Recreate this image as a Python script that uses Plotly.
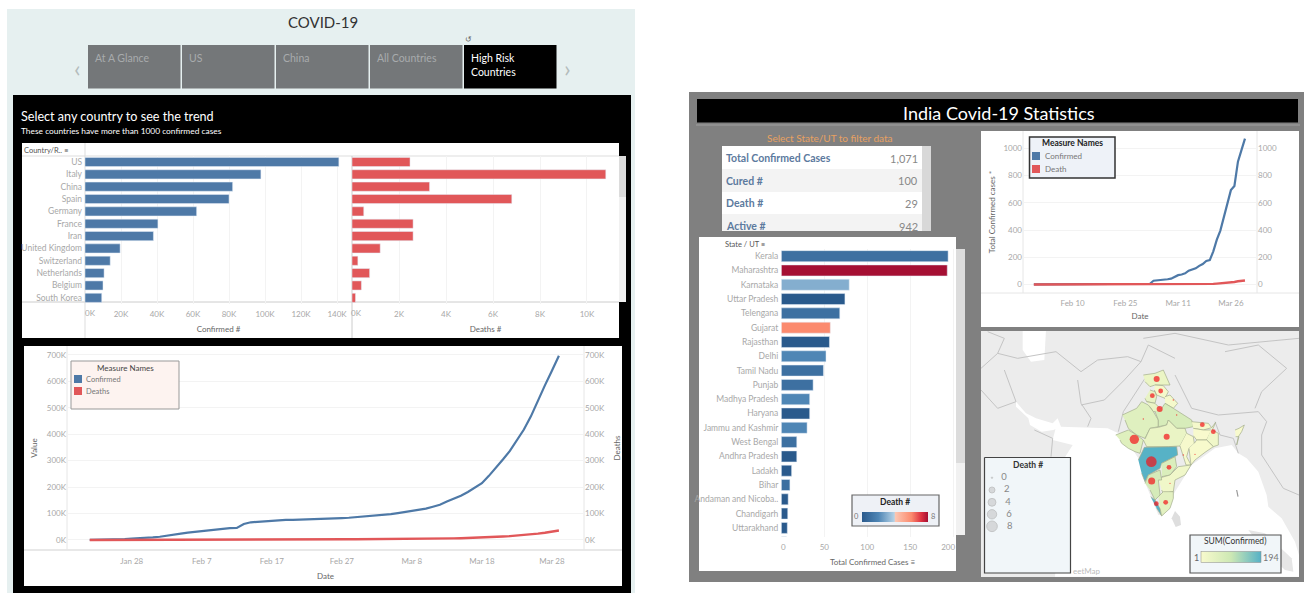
import math
import plotly.graph_objects as go
import pandas as pd

W, H = 1304, 593
FONT = "Lato"
BLUE, RED = "#4e79a7", "#e15759"
TICK = "#a8a8a8"
GRID = "#f3f3f3"

# ---------- world bars ----------
countries = ["US", "Italy", "China", "Spain", "Germany", "France", "Iran", "United Kingdom",
             "Switzerland", "Netherlands", "Belgium", "South Korea"]
confirmed = [141000, 97700, 82000, 80000, 62000, 40500, 38000, 19500, 14000, 10600, 10000, 9300]
deaths = [2470, 10800, 3300, 6800, 500, 2600, 2600, 1200, 250, 750, 400, 150]
conf_ticks = [20000, 40000, 60000, 80000, 100000, 120000, 140000]
conf_labels = ["20K", "40K", "60K", "80K", "100K", "120K", "140K"]
death_ticks = [2000, 4000, 6000, 8000, 10000]
death_labels = ["2K", "4K", "6K", "8K", "10K"]

# ---------- world trend, daily from Jan 22 ----------
world_confirmed = [555, 654, 941, 1434, 2118, 2927, 5578, 6166, 8234, 9927, 12038, 16787, 19881, 23892,
                   27635, 30794, 34391, 37120, 40150, 42762, 44802, 45221, 60368, 66885, 69030, 71224,
                   73258, 75136, 75639, 76197, 76819, 78572, 78958, 79561, 80406, 81388, 82746, 84112,
                   86011, 88369, 90306, 92840, 95120, 97886, 101801, 105847, 109821, 113590, 118620,
                   125875, 133000, 145205, 156101, 167454, 181574, 197102, 214821, 242570, 272208,
                   304507, 336953, 378235, 418045, 467653, 529591, 585000, 640000, 697000]
world_deaths = [17, 18, 26, 42, 56, 82, 131, 133, 171, 213, 259, 362, 426, 492, 564, 634, 719, 806, 906,
                1013, 1113, 1118, 1371, 1523, 1666, 1770, 1868, 2007, 2122, 2247, 2251, 2458, 2469, 2629,
                2708, 2770, 2814, 2872, 2941, 2996, 3085, 3160, 3254, 3348, 3460, 3558, 3803, 3996, 4262,
                4615, 4720, 5404, 5819, 6440, 7126, 7905, 8733, 9867, 11299, 13050, 14601, 16497, 18625,
                21181, 23970, 27198, 31500, 36000]
world_y_ticks = [0, 100000, 200000, 300000, 400000, 500000, 600000, 700000]
world_y_labels = ["0K", "100K", "200K", "300K", "400K", "500K", "600K", "700K"]
world_x_ticks = ["2020-01-28", "2020-02-07", "2020-02-17", "2020-02-27", "2020-03-08", "2020-03-18", "2020-03-28"]
world_x_labels = ["Jan 28", "Feb 7", "Feb 17", "Feb 27", "Mar 8", "Mar 18", "Mar 28"]

# ---------- India trend, daily from Jan 30 ----------
india_confirmed = [1, 1, 1, 2, 3, 3, 3, 3, 3, 3, 3, 3, 3, 3, 3, 3, 3, 3, 3, 3, 3, 3, 3, 3, 3, 3, 3, 3, 3, 3, 3,
                   3, 5, 6, 28, 30, 31, 34, 39, 43, 56, 69, 74, 82, 102, 113, 119, 137, 151, 173, 179,
                   244, 330, 396, 499, 600, 693, 724, 902, 987, 1071]
india_deaths = [0, 0, 0, 0, 0, 0, 0, 0, 0, 0, 0, 0, 0, 0, 0, 0, 0, 0, 0, 0, 0, 0, 0, 0, 0, 0, 0, 0, 0, 0, 0,
                0, 0, 0, 0, 0, 0, 0, 0, 0, 0, 0, 1, 2, 2, 2, 3, 3, 3, 4, 5, 5, 7, 9, 10, 13, 16, 19, 24, 27, 30]
india_y_ticks = [0, 200, 400, 600, 800, 1000]
india_x_ticks = ["2020-02-10", "2020-02-25", "2020-03-11", "2020-03-26"]
india_x_labels = ["Feb 10", "Feb 25", "Mar 11", "Mar 26"]

# ---------- India states ----------
states = ["Kerala", "Maharashtra", "Karnataka", "Uttar Pradesh", "Telengana", "Gujarat", "Rajasthan", "Delhi",
          "Tamil Nadu", "Punjab", "Madhya Pradesh", "Haryana", "Jammu and Kashmir", "West Bengal",
          "Andhra Pradesh", "Ladakh", "Bihar", "Andaman and Nicoba..", "Chandigarh", "Uttarakhand", "Chhattisgarh"]
state_confirmed = [194, 193, 79, 74, 68, 57, 56, 52, 49, 37, 33, 33, 30, 18, 18, 12, 10, 8, 7.5, 7, 6]
state_deaths = [1, 8, 3, 0, 1, 6, 0, 2, 1, 1, 2, 0, 2, 1, 0, 0, 1, 0, 0, 0, 0]
state_ticks = [0, 50, 100, 150, 200]
state_labels = ["\u00a0\u00a00", "50", "100", "150", "200\u00a0\u00a0\u00a0\u00a0\u00a0"]

kpi_names = ["Total Confirmed Cases", "Cured #", "Death #", "Active #"]
kpi_values = ["1,071", "100", "29", "942"]
tabs = ["At A Glance", "US", "China", "All Countries", "High Risk<br>Countries"]

# ---------- map (outlines in 3x crop units) ----------
map_shapes = {
    "Jammu and Kashmir": ([115, 150, 175, 185, 195, 175, 150, 135, 120], [30, 25, 15, 40, 60, 60, 60, 65, 50], 30),
    "Himachal": ([150, 175, 190, 180, 155, 148], [60, 62, 80, 100, 90, 75], 8),
    "Punjab": ([135, 150, 155, 150, 125, 120], [75, 80, 95, 115, 110, 100], 37),
    "Uttarakhand": ([180, 195, 218, 205, 180], [95, 90, 115, 130, 115], 7),
    "Haryana": ([125, 150, 170, 165, 145, 135], [110, 115, 135, 140, 140, 125], 33),
    "Rajasthan": ([52, 95, 110, 130, 145, 160, 160, 135, 120, 95, 70, 60],
                  [150, 130, 110, 120, 140, 165, 185, 190, 220, 210, 190, 165], 56),
    "Uttar Pradesh": ([170, 180, 205, 260, 265, 240, 215, 190, 185, 160, 160, 150],
                      [130, 115, 130, 165, 185, 190, 190, 165, 180, 185, 165, 140], 74),
    "Bihar": ([260, 310, 320, 295, 265], [170, 175, 188, 195, 190], 10),
    "Gujarat": ([32, 70, 95, 115, 105, 90, 70, 50, 45], [210, 195, 210, 225, 265, 260, 250, 235, 225], 57),
    "Madhya Pradesh": ([120, 135, 160, 185, 190, 215, 240, 245, 225, 190, 125, 115],
                       [222, 190, 187, 180, 165, 190, 190, 205, 243, 245, 245, 225], 33),
    "Chhattisgarh": ([245, 265, 268, 252, 245, 258, 243, 225], [205, 215, 235, 250, 275, 300, 300, 243], 6),
    "Jharkhand": ([265, 295, 320, 305, 275, 265], [190, 195, 195, 225, 225, 212], 2),
    "West Bengal": ([320, 332, 322, 340, 340, 325, 305], [188, 172, 195, 205, 240, 245, 225], 18),
    "Odisha": ([268, 275, 305, 325, 300, 270, 258, 252], [235, 225, 225, 245, 262, 285, 300, 250], 3),
    "Maharashtra": ([100, 118, 215, 218, 170, 165, 130, 120, 110], [285, 247, 245, 270, 295, 310, 330, 350, 325], 193),
    "Telengana": ([170, 210, 215, 195, 170], [295, 275, 305, 330, 335], 68),
    "Andhra Pradesh": ([160, 195, 220, 258, 240, 210, 205, 175, 170], [340, 330, 305, 300, 330, 345, 380, 385, 375], 18),
    "Karnataka": ([120, 130, 165, 170, 160, 165, 150, 135], [355, 330, 315, 345, 345, 390, 405, 375], 79),
    "Kerala": ([137, 150, 165, 170, 155], [395, 405, 430, 453, 430], 194),
    "Tamil Nadu": ([160, 175, 205, 205, 195, 170, 165], [395, 380, 380, 400, 430, 453, 430], 49),
    "North East": ([390, 402, 418, 410, 400, 395, 402, 392], [195, 190, 180, 200, 215, 240, 215, 215], 2),
}
map_marks_x = [155, 167, 142, 164, 115, 215, 292, 325, 88, 185, 139, 192, 140, 154, 182, 235, 270, 205, 195]
map_marks_y = [42, 78, 92, 132, 162, 150, 179, 200, 223, 215, 290, 307, 348, 416, 412, 270, 268, 105, 355]
map_marks_deaths = [2, 1, 1, 2, 0, 0, 1, 1, 6, 2, 8, 1, 3, 1, 1, 0, 0, 0, 0]
legend_deaths = [0, 2, 4, 6, 8]
persian_gulf_x = [123, 153, 183, 233, 248, 258, 235, 200, 165, 160, 123]
persian_gulf_y = [230, 265, 280, 295, 280, 305, 315, 320, 300, 280, 245]
caspian_x = [143, 213, 208, 168, 143]
caspian_y = [15, 15, 105, 110, 75]
sea_x = [258, 398, 430, 470, 490, 505, 550, 565, 600, 650, 720, 770, 790, 815, 850, 875, 880, 920, 960, 972, 972, 240, 268, 293, 233, 243]
sea_y = [305, 310, 325, 370, 400, 460, 570, 570, 500, 420, 370, 360, 385, 400, 440, 510, 545, 580, 650, 690, 755, 755, 400, 360, 345, 305]
lanka_x = [600, 615, 618, 602, 590]
lanka_y = [558, 575, 600, 606, 580]
sumatra_x = [820, 870, 950, 955, 930, 870]
sumatra_y = [615, 625, 700, 740, 735, 680]
borders = [
    ([68, 128, 243, 318, 368, 458, 498], [85, 100, 80, 140, 105, 95, 110]),
    ([88, 123, 68, 18], [135, 230, 250, 195]),
    ([308, 318, 348, 338], [165, 235, 280, 305]),
    ([318, 388, 448, 498, 520, 600], [240, 225, 165, 110, 60, 100]),
    ([178, 233, 228], [315, 340, 395]),
    ([18, 68, 88, 38], [130, 85, 40, 20]),
    ([600, 650, 730, 850, 875, 860, 860, 925, 972], [150, 250, 270, 260, 290, 330, 390, 490, 510]),
    ([750, 850, 935, 860, 840], [80, 60, 130, 200, 250]),
    ([505, 600, 760, 972], [40, 25, 60, 40]),
    ([510, 445, 430], [160, 260, 320]),
    ([720, 735, 775, 790], [290, 330, 340, 385]),
]

# ---------- helpers ----------
def px(x):
    return x / W

def py(y):
    return 1 - y / H

def mu(x, y):
    return (x - 390, y - 120)

def mx(x):
    return (x - 1105) * 3

def my(y):
    return (y - 365) * 3

shapes, annotations = [], []

def rect(x0, y0, x1, y1, fill, line=None, lw=1, layer="below"):
    shapes.append(dict(type="rect", xref="paper", yref="paper", x0=px(x0), x1=px(x1), y0=py(y1), y1=py(y0),
                       fillcolor=fill, layer=layer, line=dict(color=line or fill, width=lw if line else 0)))

def seg(x0, y0, x1, y1, color, lw=1, layer="below"):
    shapes.append(dict(type="line", xref="paper", yref="paper", x0=px(x0), x1=px(x1), y0=py(y0), y1=py(y1),
                       layer=layer, line=dict(color=color, width=lw)))

def text(x, y, s, size=8, color="#555", anchor="left", angle=0, bold=False):
    annotations.append(dict(xref="paper", yref="paper", x=px(x), y=py(y), text=f"<b>{s}</b>" if bold else s,
                            showarrow=False, xanchor=anchor, yanchor="middle", textangle=angle, borderpad=0,
                            font=dict(family=FONT, size=size, color=color), align="left"))

# ---------- panels ----------
rect(7, 9, 635, 593, "#e6f0f0")
rect(13, 95, 631, 593, "#000000")
text(323, 22, "COVID-19", 15, "#333", "center")
text(77, 67, "‹", 24, "#b4bcbc", "center")
text(567, 67, "›", 24, "#b4bcbc", "center")
text(469, 39, "↺", 8, "#666", "center")
for i, t in enumerate(tabs):
    x0 = 88 + i * 94
    active = i == len(tabs) - 1
    rect(x0, 45, x0 + 92.5, 88.5, "#000000" if active else "#747779")
    annotations.append(dict(xref="paper", yref="paper", x=px(x0 + 4.5), y=py(50), text=t, showarrow=False,
                            xanchor="left", yanchor="top", align="left",
                            font=dict(family=FONT, size=10.5, color="#ffffff" if active else "#a8abad")))
text(20, 117, "Select any country to see the trend", 12.6, "#ffffff")
text(20, 131, "These countries have more than 1000 confirmed cases", 8.4, "#ffffff")

rect(22, 143, 619, 338, "#ffffff")
rect(619, 156, 626, 302, "#f1f1f1")
rect(619, 156, 626, 197, "#dcdcdc")
seg(22, 156, 619, 156, "#dddddd")
seg(22, 302, 619, 302, "#cccccc")
seg(85, 143, 85, 338, "#dddddd")
seg(352, 156, 352, 338, "#cccccc")
text(23, 150, "Country/R.. ≡", 7.5, "#555")
text(90, 312.5, "0K", 8, TICK, "center")
text(357, 312.5, "0K", 8, TICK, "center")

rect(24, 346, 622, 586, "#ffffff")
seg(24, 550, 622, 550, "#e0e0e0", 1.5)
seg(67, 346, 67, 550, "#e6e6e6")
seg(584, 346, 584, 550, "#e6e6e6")

rect(689, 92, 1304, 582, "#808080")
rect(697, 99, 1298, 122.5, "#000000")
seg(696, 125, 1300, 125, "#a0a0a0")
text(999, 112.5, "India Covid-19 Statistics", 18, "#ffffff", "center")
text(830, 138, "Select State/UT to filter data", 10, "#e8a060", "center")
rect(722, 146, 922, 231, "#ffffff")
rect(922, 146, 931, 231, "#d8d8d8")
for y0, y1 in [(169, 192), (214, 231)]:
    rect(722, y0, 922, y1, "#f3f3f3")
for name, value, y in zip(kpi_names, kpi_values, [158, 181, 203, 226]):
    text(725, y, name, 10.5, "#5c7a9e", bold=True)
    text(919, y, value, 11, "#888888", "right")

rect(699, 237, 956, 571, "#ffffff")
rect(956, 249, 965, 535, "#f1f1f1")
rect(956, 249, 965, 463, "#dcdcdc")
text(724, 244, "State / UT ≡", 7.5, "#555")
text(873, 562, "Total Confirmed Cases ≡", 8, "#666", "center")

rect(981, 131, 1299, 327, "#ffffff")
seg(981, 293, 1299, 293, "#e6e6e6", 1)
seg(1023, 131, 1023, 293, "#e6e6e6")
seg(1257, 131, 1257, 293, "#e6e6e6")

# legends over the line charts
rect(71, 361, 179, 409, "#fdf3f0", "#999999", 1, "above")
text(125, 367.5, "Measure Names", 8, "#444", "center")
rect(74, 375, 82, 383, BLUE, layer="above")
text(85, 379, "Confirmed", 7.5, "#777")
rect(74, 387, 82, 395, RED, layer="above")
text(85, 391, "Deaths", 7.5, "#777")

rect(1029.5, 137, 1115, 178, "#eef2f8", "#333333", 1.5, "above")
text(1072, 143.5, "Measure Names", 8.5, "#222", "center", bold=True)
rect(1032, 152, 1040, 160, BLUE, layer="above")
text(1044, 156, "Confirmed", 8, "#777")
rect(1032, 165, 1040, 173, RED, layer="above")
text(1044, 169, "Death", 8, "#777")

rect(852, 495, 939, 526, "#eef1f6", "#666666", 1.2, "above")
text(895, 502, "Death #", 8.5, "#222", "center", bold=True)
text(856, 516.5, "0", 7.5, "#777", "center")
text(933, 516.5, "8", 7.5, "#777", "center")

rect(1190, 535, 1281, 573, "#f1f6f9", "#555555", 1.2, "above")
text(1235, 541, "SUM(Confirmed)", 8.5, "#333", "center")
text(1196, 557, "1", 9, "#666", "center")
text(1262, 557, "194", 9, "#777")
text(1072, 571, "eetMap", 8, "#bdbdbd")

fig = go.Figure()

def dom_x(a, b):
    return [px(a), px(b)]

def dom_y(top, bottom):
    return [py(bottom), py(top)]

tick_font = dict(family=FONT, size=8, color=TICK)
title_font = dict(family=FONT, size=8, color="#666")

# confirmed / deaths bars
fig.add_trace(go.Bar(y=countries, x=confirmed, orientation="h", marker=dict(color=BLUE), width=0.74, xaxis="x", yaxis="y"))
fig.add_trace(go.Bar(y=countries, x=deaths, orientation="h", marker=dict(color=RED), width=0.74, xaxis="x2", yaxis="y2"))

# world trend
world_dates = pd.date_range("2020-01-22", periods=len(world_confirmed)).strftime("%Y-%m-%d").tolist()
fig.add_trace(go.Scatter(x=world_dates, y=world_confirmed, mode="lines", line=dict(color=BLUE, width=2.2), xaxis="x3", yaxis="y3"))
fig.add_trace(go.Scatter(x=world_dates, y=world_deaths, mode="lines", line=dict(color=RED, width=2.4), xaxis="x3", yaxis="y4"))

# India trend
india_dates = pd.date_range("2020-01-30", periods=len(india_confirmed)).strftime("%Y-%m-%d").tolist()
fig.add_trace(go.Scatter(x=india_dates, y=india_confirmed, mode="lines", line=dict(color=BLUE, width=2.2), xaxis="x4", yaxis="y5"))
fig.add_trace(go.Scatter(x=india_dates, y=india_deaths, mode="lines", line=dict(color=RED, width=2.4), xaxis="x4", yaxis="y6"))

# state bars
fig.add_trace(go.Bar(y=states, x=state_confirmed, orientation="h", width=0.77,
                     marker=dict(color=state_deaths, coloraxis="coloraxis"), xaxis="x5", yaxis="y7"))

# map
GREEN_SCALE = [(0, (248, 250, 205)), (0.5, (205, 232, 180)), (1, (86, 177, 198))]

def scale_color(v):
    t = max(0, min(1, (v - 1) / 193))
    for (a, ca), (b, cb) in zip(GREEN_SCALE, GREEN_SCALE[1:]):
        if t <= b:
            f = (t - a) / (b - a)
            return "rgb(%d,%d,%d)" % tuple(round(p + (q - p) * f) for p, q in zip(ca, cb))

def map_fill(xs, ys, color, line=None, lw=0.8, convert=True):
    if convert:
        pts = [mu(a, b) for a, b in zip(xs, ys)]
        xs, ys = [p[0] for p in pts], [p[1] for p in pts]
    fig.add_trace(go.Scatter(x=xs, y=ys, mode="lines", fill="toself", fillcolor=color,
                             line=dict(color=line or color, width=lw if line else 0),
                             xaxis="x6", yaxis="y8", hoverinfo="skip"))

rect(981, 331, 1299, 577, "#ececec")
map_fill(persian_gulf_x, persian_gulf_y, "#ffffff")
map_fill(caspian_x, caspian_y, "#ffffff")
map_fill(sea_x, sea_y, "#ffffff")
map_fill(lanka_x, lanka_y, "#dedede")
map_fill(sumatra_x, sumatra_y, "#e6e6e6")
for bx, by in borders:
    pts = [mu(a, b) for a, b in zip(bx, by)]
    fig.add_trace(go.Scatter(x=[p[0] for p in pts], y=[p[1] for p in pts], mode="lines",
                             line=dict(color="#c4c4c4", width=1), xaxis="x6", yaxis="y8", hoverinfo="skip"))
fig.add_trace(go.Scatter(x=[395, 397, 399, None, 412], y=[375, 385, 395, None, 455], mode="lines",
                         line=dict(color="#999999", width=1.2), xaxis="x6", yaxis="y8", hoverinfo="skip"))
for name, (sx, sy, val) in map_shapes.items():
    map_fill(sx, sy, scale_color(val), "#a3ad8c", 0.7, convert=False)
fig.add_trace(go.Scatter(x=[165, 240], y=[365, 290], mode="markers",
                         marker=dict(color=[1, 194], coloraxis="coloraxis2", opacity=0, size=1),
                         xaxis="x6", yaxis="y8", hoverinfo="skip"))

def dot_size(d):
    return 3.6 * math.sqrt(d + 0.8) if d else 1.4

fig.add_trace(go.Scatter(x=map_marks_x, y=map_marks_y, mode="markers",
                         marker=dict(color="#f41218", size=[dot_size(d) for d in map_marks_deaths], line=dict(width=0)),
                         xaxis="x6", yaxis="y8"))
# size legend (Death #)
lx0, lx1, ly0, ly1 = mx(984.5), mx(1070.5), my(457.5), my(573)
fig.add_trace(go.Scatter(x=[lx0, lx1, lx1, lx0, lx0], y=[ly0, ly0, ly1, ly1, ly0], mode="lines", fill="toself",
                         fillcolor="#f1f6f9", line=dict(color="#444444", width=1.2), xaxis="x6", yaxis="y8", hoverinfo="skip"))
text(1028, 464.5, "Death #", 8.5, "#333", "center", bold=True)
legend_rows = [477.7, 490, 502.3, 514.3, 526.3]
fig.add_trace(go.Scatter(x=[mx(992)] * 5, y=[my(v) for v in legend_rows], mode="markers+text",
                         text=[f"\u00a0\u00a0\u00a0{v}" for v in legend_deaths], textposition="middle right",
                         textfont=dict(family=FONT, size=9.5, color="#888"),
                         marker=dict(color="rgba(190,190,190,0.75)", size=[dot_size(d) for d in legend_deaths],
                                     line=dict(color="#a8a8a8", width=0.8)),
                         xaxis="x6", yaxis="y8"))

def cat_axis(domain, **kw):
    base = dict(domain=domain, type="category", categoryorder="array", ticks="", showline=False, showgrid=False,
                zeroline=False, tickfont=dict(family=FONT, size=8.5, color=TICK), fixedrange=True,
                ticklabelstandoff=2)
    base.update(kw)
    return base

def val_axis(domain, **kw):
    base = dict(domain=domain, ticks="", showline=False, showgrid=True, gridcolor=GRID, gridwidth=1,
                zeroline=False, tickfont=tick_font, fixedrange=True)
    base.update(kw)
    return base

layout = dict(
    width=W, height=H, margin=dict(l=0, r=0, t=0, b=0, autoexpand=False), paper_bgcolor="#ffffff", plot_bgcolor="rgba(0,0,0,0)",
    showlegend=False, shapes=shapes, annotations=annotations, font=dict(family=FONT), bargap=0.2,
    xaxis=val_axis(dom_x(85, 352), range=[0, 148300], tickmode="array", tickvals=conf_ticks, ticktext=conf_labels,
                   anchor="y", ticklabelstandoff=4, title=dict(text="Confirmed #", font=title_font, standoff=8)),
    yaxis=cat_axis(dom_y(155.8, 304), categoryarray=countries, range=[11.5, -0.5], anchor="x"),
    xaxis2=val_axis(dom_x(352, 619), range=[0, 11362], tickmode="array", tickvals=death_ticks, ticktext=death_labels,
                    anchor="y2", ticklabelstandoff=4, title=dict(text="Deaths #", font=title_font, standoff=8)),
    yaxis2=cat_axis(dom_y(155.8, 304), categoryarray=countries, range=[11.5, -0.5], anchor="x2", showticklabels=False),
    xaxis3=val_axis(dom_x(67, 584), type="date", range=["2020-01-18 18:00", "2020-04-01 14:00"], tickmode="array",
                    tickvals=world_x_ticks, ticktext=world_x_labels, showgrid=False, anchor="y3", ticklabelstandoff=5,
                    title=dict(text="Date", font=title_font, standoff=8)),
    yaxis3=val_axis(dom_y(346, 550), range=[-38000, 734000], tickmode="array", tickvals=world_y_ticks, ticktext=world_y_labels,
                    anchor="x3", title=dict(text="Value", font=title_font, standoff=7)),
    yaxis4=val_axis(dom_y(346, 550), range=[-38000, 734000], tickmode="array", tickvals=world_y_ticks, ticktext=world_y_labels,
                    anchor="x3", overlaying="y3", side="right", showgrid=False,
                    title=dict(text="Deaths", font=title_font, standoff=10)),
    xaxis4=val_axis(dom_x(1023, 1257), type="date", range=["2020-01-26 22:00", "2020-04-02 10:00"], tickmode="array",
                    tickvals=india_x_ticks, ticktext=india_x_labels, showgrid=False, anchor="y5", ticklabelstandoff=4,
                    title=dict(text="Date", font=title_font, standoff=6)),
    yaxis5=val_axis(dom_y(131, 293), range=[-62, 1127], tickmode="array", tickvals=india_y_ticks, anchor="x4",
                    title=dict(text="Total Confirmed cases *", font=title_font, standoff=6)),
    yaxis6=val_axis(dom_y(131, 293), range=[-62, 1127], tickmode="array", tickvals=india_y_ticks, anchor="x4",
                    overlaying="y5", side="right", showgrid=False),
    xaxis5=val_axis(dom_x(781.3, 955), range=[0, 202], tickmode="array", tickvals=state_ticks, ticktext=state_labels,
                    anchor="y7", ticklabelstandoff=4),
    yaxis7=cat_axis(dom_y(249, 536.5), categoryarray=states, range=[19.6, -0.5], anchor="x5"),
    xaxis6=dict(domain=dom_x(981, 1299), range=[mx(981), mx(1299)], visible=False, fixedrange=True, anchor="y8"),
    yaxis8=dict(domain=dom_y(331, 577), range=[my(577), my(331)], visible=False, fixedrange=True, anchor="x6"),
    coloraxis=dict(cmin=0, cmax=8, colorscale=[[0, "#2a5a8c"], [0.25, "#4f86b5"], [0.49, "#b5d2e6"], [0.5, "#fcc8b4"],
                                                [0.75, "#fb8a6e"], [0.9, "#dc3040"], [1, "#a50f33"]],
                   colorbar=dict(orientation="h", x=px(895), xanchor="center", y=py(522), yanchor="bottom", len=66, lenmode="pixels",
                                 thickness=10, thicknessmode="pixels", showticklabels=False, ticks="", outlinewidth=0, xpad=0, ypad=0)),
    coloraxis2=dict(cmin=1, cmax=194, colorscale=[[0, "rgb(248,250,205)"], [0.5, "rgb(205,232,180)"], [1, "rgb(86,177,198)"]],
                    colorbar=dict(orientation="h", x=px(1230.5), xanchor="center", y=py(563), yanchor="bottom", len=60, lenmode="pixels",
                                  thickness=11, thicknessmode="pixels", showticklabels=False, ticks="", outlinewidth=0.5, outlinecolor="#888", xpad=0, ypad=0)),
)
fig.update_layout(**layout)
fig.write_html("out.html", config={"displayModeBar": False},
               post_script="document.body.style.margin='0';document.documentElement.style.overflow='hidden';")
